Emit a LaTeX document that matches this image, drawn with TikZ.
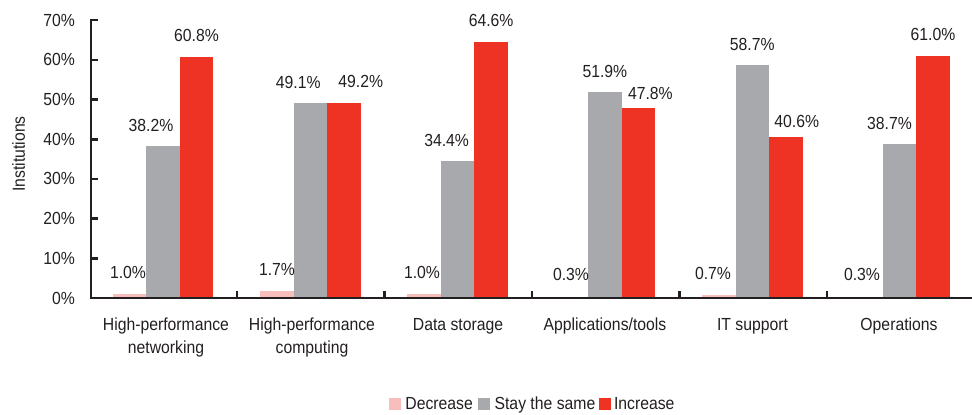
\documentclass[tikz,border=0pt]{standalone}
\usepackage{fontspec}
\setmainfont{Liberation Sans}[FakeStretch=0.9]
\usetikzlibrary{positioning}
\definecolor{ink}{RGB}{35,31,32}
\definecolor{decr}{RGB}{247,190,187}
\definecolor{same}{RGB}{167,169,172}
\definecolor{incr}{RGB}{238,51,37}

\begin{document}
\begin{tikzpicture}[x=1pt,y=-1pt]
\tikzset{txt/.style={font=\fontsize{17.5}{23}\selectfont, text=ink, inner sep=0pt},
  pct/.style={txt, anchor=base},
  ytick/.style={txt, anchor=east},
  cat/.style={txt, anchor=base, align=center},
  axis/.style={draw=ink, line width=2.6pt},
  legsq/.style={minimum size=12pt, inner sep=0pt},
  legtxt/.style={txt, text height=12pt, text depth=0pt, anchor=west}}
\useasboundingbox (0,0) rectangle (972,415);
\fill[decr] (112.8,298) rectangle (146.3,{298-3.97*1.0});
\fill[same] (146.3,298) rectangle (179.8,{298-3.97*38.2});
\fill[incr] (179.8,298) rectangle (213.3,{298-3.97*60.8});
\fill[decr] (260.1,298) rectangle (293.6,{298-3.97*1.7});
\fill[same] (293.6,298) rectangle (327.1,{298-3.97*49.1});
\fill[incr] (327.1,298) rectangle (360.6,{298-3.97*49.2});
\fill[decr] (407.4,298) rectangle (440.9,{298-3.97*1.0});
\fill[same] (440.9,298) rectangle (474.4,{298-3.97*34.4});
\fill[incr] (474.4,298) rectangle (507.9,{298-3.97*64.6});
\fill[decr] (554.7,298) rectangle (588.2,{298-3.97*0.3});
\fill[same] (588.2,298) rectangle (621.7,{298-3.97*51.9});
\fill[incr] (621.7,298) rectangle (655.2,{298-3.97*47.8});
\fill[decr] (702.0,298) rectangle (735.5,{298-3.97*0.7});
\fill[same] (735.5,298) rectangle (769.0,{298-3.97*58.7});
\fill[incr] (769.0,298) rectangle (802.5,{298-3.97*40.6});
\fill[decr] (849.3,298) rectangle (882.8,{298-3.97*0.3});
\fill[same] (882.8,298) rectangle (916.3,{298-3.97*38.7});
\fill[incr] (916.3,298) rectangle (949.8,{298-3.97*61.0});
\draw[axis] (91,18.9) -- (91,298) -- (972,298);
\draw[axis] (91,258.3) -- (98,258.3) (91,218.6) -- (98,218.6)
  (91,178.9) -- (98,178.9) (91,139.2) -- (98,139.2) (91,99.5) -- (98,99.5)
  (91,59.8) -- (98,59.8) (91,20.1) -- (98,20.1);
\draw[axis] (237,298) -- (237,291) (384.5,298) -- (384.5,291)
  (532,298) -- (532,291) (679.5,298) -- (679.5,291) (827,298) -- (827,291);
\node[ytick] (y0) at (75,298) {0\%};
\node[ytick] (y10) at (75,258.3) {10\%};
\node[ytick] (y20) at (75,218.6) {20\%};
\node[ytick] (y30) at (75,178.9) {30\%};
\node[ytick] (y40) at (75,139.2) {40\%};
\node[ytick] (y50) at (75,99.5) {50\%};
\node[ytick] (y60) at (75,59.8) {60\%};
\node[ytick] (y70) at (75,20.1) {70\%};
\node[txt, rotate=90] (ylab) at (18.5,154) {Institutions};
\node[pct] (hpnD) at (128,278) {1.0\%};
\node[pct] (hpnS) at (151,131.3) {38.2\%};
\node[pct] (hpnI) at (196.5,41.6) {60.8\%};
\node[pct] (hpcD) at (277,275.3) {1.7\%};
\node[pct] (hpcS) at (298.3,88.1) {49.1\%};
\node[pct] (hpcI) at (360.8,87.7) {49.2\%};
\node[pct] (storD) at (422,278) {1.0\%};
\node[pct] (storS) at (446.6,146.4) {34.4\%};
\node[pct] (storI) at (491.1,26.5) {64.6\%};
\node[pct] (appsD) at (571,280.8) {0.3\%};
\node[pct] (appsS) at (604.9,77) {51.9\%};
\node[pct] (appsI) at (650.4,99.5) {47.8\%};
\node[pct] (suppD) at (713,279.2) {0.7\%};
\node[pct] (suppS) at (752.2,50) {58.7\%};
\node[pct] (suppI) at (796.7,127) {40.6\%};
\node[pct] (opsD) at (862,280.8) {0.3\%};
\node[pct] (opsS) at (889.5,129.4) {38.7\%};
\node[pct] (opsI) at (933,40.8) {61.0\%};
\node[cat] (hpn) at (166,353) {High-performance\\networking};
\node[cat] (hpc) at (312,353) {High-performance\\computing};
\node[cat] (stor) at (458,330) {Data storage};
\node[cat] (apps) at (605,330) {Applications/tools};
\node[cat] (supp) at (752.5,330) {IT support};
\node[cat] (ops) at (899,330) {Operations};
\node[legsq, fill=decr] (sqD) at (395,403.5) {};
\node[legtxt, right=4pt of sqD] (txD) {Decrease};
\node[legsq, fill=same, right=5pt of txD] (sqS) {};
\node[legtxt, right=4pt of sqS] (txS) {Stay the same};
\node[legsq, fill=incr, right=3pt of txS] (sqI) {};
\node[legtxt, right=3pt of sqI] (txI) {Increase};
\end{tikzpicture}
\end{document}
